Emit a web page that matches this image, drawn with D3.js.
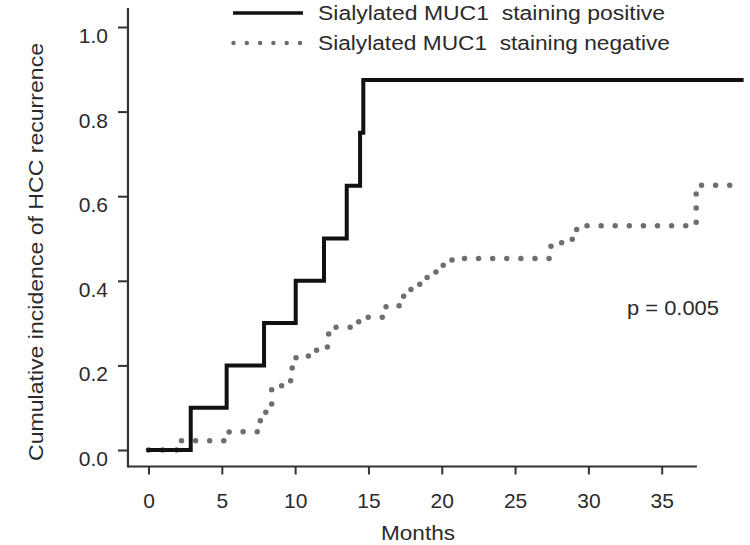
<!DOCTYPE html>
<html>
<head>
<meta charset="utf-8">
<script src="https://cdn.jsdelivr.net/npm/d3@7"></script>
<style>
  html, body { margin: 0; padding: 0; background: #fff; }
  svg { display: block; font-family: "Liberation Sans", Arial, sans-serif; }
  text { white-space: pre; }
</style>
</head>
<body>
<svg id="chart" width="750" height="545"></svg>
<script>
// ---- data ----
const positiveMonths = [0, 2.88, 5.33, 7.88, 10.04, 11.97, 13.52, 14.43, 14.65, 40.45];
const positiveValues = [0, 0.1, 0.2, 0.3, 0.4, 0.5, 0.625, 0.75, 0.875, 0.875];

const negativeMonths = [0, 2.2, 5.5, 7.57, 8.0, 8.4, 8.77, 9.5, 9.8, 10.06, 11.36, 12.2, 12.75,
  14.2, 14.75, 16.2, 17.4, 17.9, 18.5, 19.0, 19.6, 20.1, 20.7, 27.45, 28.9, 29.2, 37.35, 40.0];
const negativeValues = [0, 0.022, 0.043, 0.069, 0.091, 0.144, 0.152, 0.164, 0.2, 0.222, 0.236, 0.274, 0.29,
  0.303, 0.314, 0.341, 0.366, 0.382, 0.396, 0.414, 0.422, 0.44, 0.453, 0.49, 0.508, 0.53, 0.626, 0.626];

const xTicks = [0, 5, 10, 15, 20, 25, 30, 35];
const yTicks = [0.0, 0.2, 0.4, 0.6, 0.8, 1.0];
const xAxisExtent = [-1.4, 37.4];
const yAxisExtent = [-0.039, 1.045];

const seriesNames = ["Sialylated MUC1  staining positive", "Sialylated MUC1  staining negative"];
const xTitle = "Months";
const yTitle = "Cumulative incidence of HCC recurrence";
const pText = "p = 0.005";

// ---- drawing ----
const svg = d3.select("#chart");
const x = d3.scaleLinear().domain([0, 35]).range([148.5, 661.7]);
const y = d3.scaleLinear().domain([0, 1]).range([450, 27]);
const axisColor = "#333";
const textColor = "#2a2a2a";
const fontSize = 20;

// axes
const xAxisY = y(yAxisExtent[0]);
const yAxisX = x(xAxisExtent[0]);

const gx = svg.append("g").attr("transform", `translate(0,${xAxisY})`)
  .call(d3.axisBottom(x).tickValues(xTicks).tickSize(8).tickFormat(d3.format("d")));
gx.select(".domain").remove();
gx.selectAll(".tick line").attr("stroke", axisColor).attr("stroke-width", 2);
gx.selectAll(".tick text").attr("y", 42).attr("dy", null)
  .attr("font-size", 21).attr("fill", textColor).attr("font-family", null);

const gy = svg.append("g").attr("transform", `translate(${yAxisX},0)`)
  .call(d3.axisLeft(y).tickValues(yTicks).tickSize(10).tickFormat(d3.format(".1f")));
gy.select(".domain").remove();
gy.selectAll(".tick line").attr("stroke", axisColor).attr("stroke-width", 2);
gy.selectAll(".tick text").attr("x", -20).attr("dy", "0.74em")
  .attr("font-size", 21).attr("fill", textColor).attr("font-family", null);

svg.append("line")
  .attr("x1", yAxisX).attr("x2", x(xAxisExtent[1]))
  .attr("y1", xAxisY).attr("y2", xAxisY)
  .attr("stroke", axisColor).attr("stroke-width", 2.2);
svg.append("line")
  .attr("x1", yAxisX).attr("x2", yAxisX)
  .attr("y1", y(yAxisExtent[0]) + 1).attr("y2", y(yAxisExtent[1]))
  .attr("stroke", axisColor).attr("stroke-width", 2.2);

// curves
const line = d3.line().x(d => x(d[0])).y(d => y(d[1])).curve(d3.curveStepAfter);
const negData = negativeMonths.map((m, i) => [m, negativeValues[i]]);
const posData = positiveMonths.map((m, i) => [m, positiveValues[i]]);

svg.append("path").datum(negData).attr("d", line)
  .attr("fill", "none").attr("stroke", "#6e6e6e").attr("stroke-width", 5.5)
  .attr("stroke-linecap", "round").attr("stroke-dasharray", "0 14.1");
svg.append("path").datum(posData).attr("d", line)
  .attr("fill", "none").attr("stroke", "#111").attr("stroke-width", 4)
  .attr("stroke-linecap", "square");

// legend
const legendRows = [
  { name: seriesNames[0], cy: 13, solid: true, len: 347 },
  { name: seriesNames[1], cy: 43, solid: false, len: 352 }
];
legendRows.forEach(r => {
  const l = svg.append("line").attr("x1", 233).attr("x2", 303)
    .attr("y1", r.cy).attr("y2", r.cy);
  if (r.solid) {
    l.attr("stroke", "#111").attr("stroke-width", 3.5);
  } else {
    l.attr("x1", 233.5).attr("stroke", "#6e6e6e").attr("stroke-width", 4.5)
      .attr("stroke-linecap", "round").attr("stroke-dasharray", "0 13.3");
  }
  svg.append("text").attr("x", 318).attr("y", r.cy + 7)
    .attr("font-size", fontSize).attr("fill", textColor)
    .attr("xml:space", "preserve")
    .attr("textLength", r.len).attr("lengthAdjust", "spacingAndGlyphs")
    .text(r.name);
});

// titles
svg.append("text").attr("x", 418).attr("y", 540).attr("text-anchor", "middle")
  .attr("font-size", fontSize).attr("fill", textColor)
  .attr("textLength", 74).attr("lengthAdjust", "spacingAndGlyphs").text(xTitle);
svg.append("text").attr("transform", "translate(43,252) rotate(-90)")
  .attr("text-anchor", "middle").attr("font-size", fontSize).attr("fill", textColor)
  .attr("textLength", 418).attr("lengthAdjust", "spacingAndGlyphs").text(yTitle);

svg.append("text").attr("x", 627).attr("y", 315)
  .attr("font-size", fontSize).attr("fill", textColor)
  .attr("textLength", 92).attr("lengthAdjust", "spacingAndGlyphs").text(pText);
</script>
</body>
</html>
